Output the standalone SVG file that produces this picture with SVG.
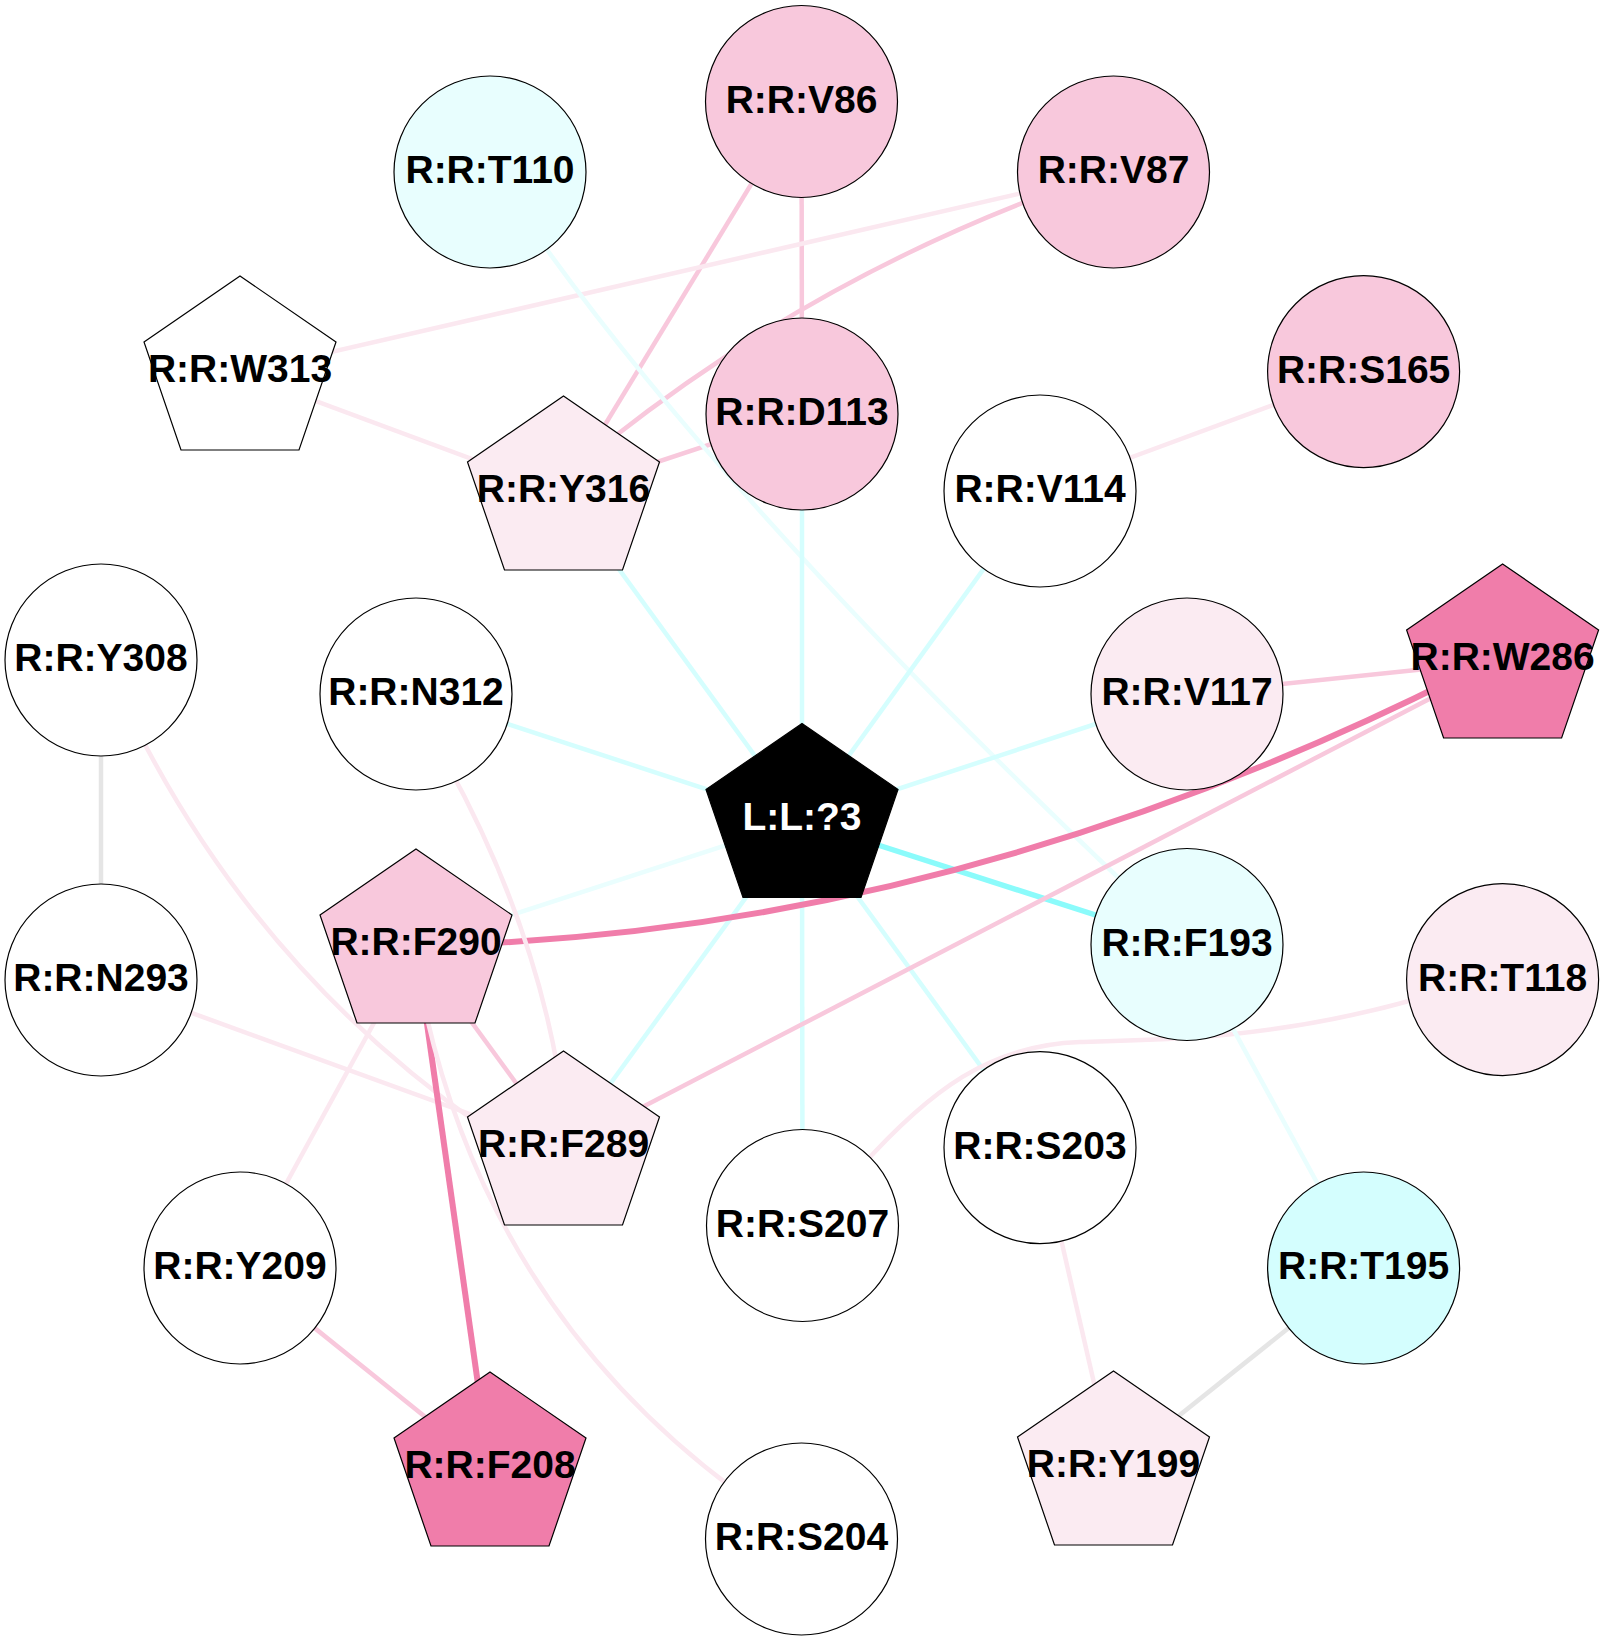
<svg xmlns="http://www.w3.org/2000/svg" xmlns:xlink="http://www.w3.org/1999/xlink" width="1604" height="1640" viewBox="0 0 1604 1640">
<defs>
<path id="pent" d="M0,0 L96,66 L59,174 L-59,174 L-96,66 Z"/>
<style>
.e{fill:none;stroke-width:4.5;stroke-linecap:butt}
.pk{stroke:#F8C8DC}
.lp{stroke:#FBE8F0}
.dp{stroke:#F07DAA;stroke-width:6}
.cy{stroke:#D5FEFE}
.vc{stroke:#EAFEFE}
.bc{stroke:#8BFBFB;stroke-width:5.5}
.gr{stroke:#E5E5E5}
.n{stroke:#000;stroke-width:1.2}
.w{fill:#FFFFFF}
.p1{fill:#F8C8DC}
.p0{fill:#FBEBF2}
.p2{fill:#F07DAA}
.c0{fill:#E8FEFE}
.c1{fill:#D4FEFE}
.lig{fill:#000000}
text{font-family:"Liberation Sans",Arial,sans-serif;font-weight:bold;font-size:39px;text-anchor:middle;fill:#000}
.wt{fill:#FFFFFF}
</style>
</defs>
<rect width="1604" height="1640" fill="#FFFFFF"/>
<g id="edges">
<line class="e pk" x1="801.5" y1="101.5" x2="802" y2="414"/>
<line class="e pk" x1="801.5" y1="101.5" x2="563.5" y2="493"/>
<path class="e pk" d="M1030,200 Q803,288 610,440"/>
<line class="e lp" x1="240" y1="373" x2="1113.5" y2="172"/>
<line class="e lp" x1="240" y1="373" x2="563.5" y2="493"/>
<line class="e pk" x1="563.5" y1="493" x2="802" y2="414"/>
<path class="e vc" d="M540,240 Q736,514 1125,884"/>
<line class="e cy" x1="802" y1="414" x2="802" y2="820.5"/>
<line class="e cy" x1="563.5" y1="493" x2="802" y2="820.5"/>
<line class="e cy" x1="1040" y1="491" x2="802" y2="820.5"/>
<line class="e cy" x1="416" y1="694" x2="802" y2="820.5"/>
<line class="e cy" x1="1187" y1="694" x2="802" y2="820.5"/>
<line class="e bc" x1="802" y1="820.5" x2="1187" y2="944.5"/>
<line class="e vc" x1="802" y1="820.5" x2="416" y2="946"/>
<line class="e cy" x1="802" y1="820.5" x2="563.5" y2="1148"/>
<line class="e cy" x1="802" y1="820.5" x2="802.5" y2="1225.5"/>
<line class="e cy" x1="802" y1="820.5" x2="1040" y2="1147.6"/>
<line class="e lp" x1="1363.6" y1="371.6" x2="1040" y2="491"/>
<line class="e pk" x1="1187" y1="694" x2="1502.6" y2="661"/>
<line class="e pk" x1="1502.6" y1="661" x2="563.5" y2="1148"/>
<path class="e dp" d="M470,944 Q965.5,924 1460,676"/>
<line class="e gr" x1="101" y1="660" x2="101" y2="980"/>
<path class="e lp" d="M140,735 Q262,972 480,1125"/>
<path class="e lp" d="M445,760 Q531,915 558,1070"/>
<line class="e lp" x1="101" y1="980" x2="563.5" y2="1148"/>
<line class="e pk" x1="416" y1="946" x2="563.5" y2="1148"/>
<line class="e dp" x1="416" y1="946" x2="490" y2="1469"/>
<line class="e lp" x1="416" y1="946" x2="240" y2="1268"/>
<path class="e lp" d="M423,1000 Q487.7,1306 735,1490"/>
<line class="e pk" x1="240" y1="1268" x2="490" y2="1469"/>
<path class="e lp" d="M860,1168 C930,1090 990,1045 1080,1042 C1170,1040 1280,1038 1420,998"/>
<line class="e vc" x1="1187" y1="944.5" x2="1363.6" y2="1268"/>
<line class="e lp" x1="1040" y1="1147.6" x2="1113.5" y2="1468"/>
<line class="e gr" x1="1363.6" y1="1268" x2="1113.5" y2="1468"/>
</g>
<g id="node-V86"><circle class="n p1" cx="801.5" cy="101.5" r="96"/><text x="801.5" y="112.5">R:R:V86</text></g>
<g id="node-T110"><circle class="n c0" cx="490" cy="172" r="96"/><text x="490" y="183">R:R:T110</text></g>
<g id="node-V87"><circle class="n p1" cx="1113.5" cy="172" r="96"/><text x="1113.5" y="183">R:R:V87</text></g>
<g id="node-W313"><use xlink:href="#pent" class="n w" x="240" y="276"/><text x="240" y="382">R:R:W313</text></g>
<g id="node-D113"><circle class="n p1" cx="802" cy="414" r="96"/><text x="802" y="425">R:R:D113</text></g>
<g id="node-S165"><circle class="n p1" cx="1363.6" cy="371.6" r="96"/><text x="1363.6" y="382.6">R:R:S165</text></g>
<g id="node-Y316"><use xlink:href="#pent" class="n p0" x="563.5" y="396"/><text x="563.5" y="502">R:R:Y316</text></g>
<g id="node-V114"><circle class="n w" cx="1040" cy="491" r="96"/><text x="1040" y="502">R:R:V114</text></g>
<g id="node-Y308"><circle class="n w" cx="101" cy="660" r="96"/><text x="101" y="671">R:R:Y308</text></g>
<g id="node-N312"><circle class="n w" cx="416" cy="694" r="96"/><text x="416" y="705">R:R:N312</text></g>
<g id="node-V117"><circle class="n p0" cx="1187" cy="694" r="96"/><text x="1187" y="705">R:R:V117</text></g>
<g id="node-W286"><use xlink:href="#pent" class="n p2" x="1502.6" y="564"/><text x="1502.6" y="670">R:R:W286</text></g>
<g id="node-L3"><use xlink:href="#pent" class="n lig" x="802" y="723.5"/><text class="wt" x="802" y="829.5">L:L:?3</text></g>
<g id="node-N293"><circle class="n w" cx="101" cy="980" r="96"/><text x="101" y="991">R:R:N293</text></g>
<g id="node-F290"><use xlink:href="#pent" class="n p1" x="416" y="849"/><text x="416" y="955">R:R:F290</text></g>
<g id="node-F193"><circle class="n c0" cx="1187" cy="944.5" r="96"/><text x="1187" y="955.5">R:R:F193</text></g>
<g id="node-T118"><circle class="n p0" cx="1502.6" cy="979.6" r="96"/><text x="1502.6" y="990.6">R:R:T118</text></g>
<g id="node-F289"><use xlink:href="#pent" class="n p0" x="563.5" y="1051"/><text x="563.5" y="1157">R:R:F289</text></g>
<g id="node-S207"><circle class="n w" cx="802.5" cy="1225.5" r="96"/><text x="802.5" y="1236.5">R:R:S207</text></g>
<g id="node-S203"><circle class="n w" cx="1040" cy="1147.6" r="96"/><text x="1040" y="1158.6">R:R:S203</text></g>
<g id="node-Y209"><circle class="n w" cx="240" cy="1268" r="96"/><text x="240" y="1279">R:R:Y209</text></g>
<g id="node-T195"><circle class="n c1" cx="1363.6" cy="1268" r="96"/><text x="1363.6" y="1279">R:R:T195</text></g>
<g id="node-F208"><use xlink:href="#pent" class="n p2" x="490" y="1372"/><text x="490" y="1478">R:R:F208</text></g>
<g id="node-Y199"><use xlink:href="#pent" class="n p0" x="1113.5" y="1371"/><text x="1113.5" y="1477">R:R:Y199</text></g>
<g id="node-S204"><circle class="n w" cx="801.5" cy="1539" r="96"/><text x="801.5" y="1550">R:R:S204</text></g>
</svg>
